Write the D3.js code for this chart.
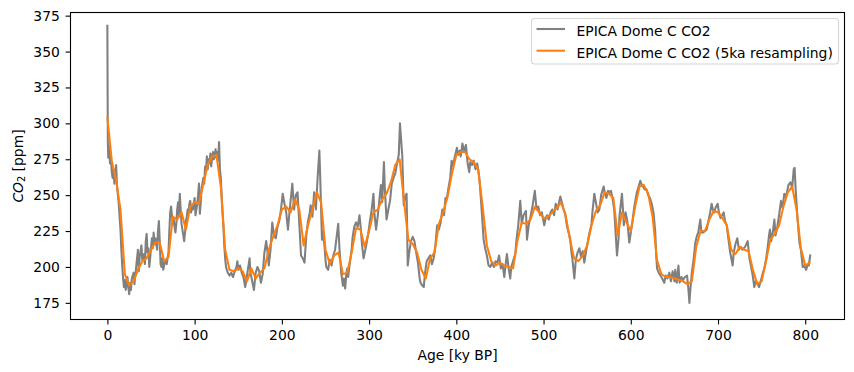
<!DOCTYPE html>
<html>
<head>
<meta charset="utf-8">
<script src="https://cdn.jsdelivr.net/npm/d3@7"></script>
<style>
    body { margin: 0; background: #ffffff; }
    svg { display: block; }
</style>
</head>
<body>
<svg id="drawing_region"></svg>
<script>
// EPICA Dome C CO2, [age ky BP, ppm]
const epica_raw = [
    [-0.05,368],[0.2,330],[0.5,287],[1,276],[2,284],[3,272],[4,277],[5,266],[6,262],[7,268],
    [8,258],[9,264],[10,271],[11,257],[12,250],[13,244],[14,235],[15,226],[16,212],[17,201],
    [18,192],[19,186],[20,191],[21,184],[22,188],[23,193],[24,186],[25,181],[26,189],[27,184],
    [28,192],[30,196],[31,188],[33,200],[35,212],[36,197],[37,207],[39,215],[40,205],[42,209],
    [43,202],[44,218],[45,223],[46,210],[47,213],[48,200],[49,206],[50,213],[51,220],[52,213],
    [53,224],[54,216],[55,220],[57,212],[58,225],[59,232],[60,218],[61,202],[62,200],[63,206],
    [64,198],[66,204],[68,202],[70,210],[71,225],[72,238],[73,242],[74,236],[75,230],[76,233],
    [77,228],[78,224],[79,230],[80,240],[81,245],[82,236],[83,251],[84,240],[85,230],[86,226],
    [87,222],[88,218],[89,224],[90,232],[91,235],[92,240],[93,238],[94,244],[95,246],[96,238],
    [97,242],[98,240],[100,248],[101,236],[103,244],[104,250],[105,258],[106,237],[107,245],[108,255],
    [110,262],[111,258],[112,270],[113,266],[114,277],[115,268],[116,275],[117,272],[118,279],[119,270],
    [120,276],[121,280],[122,275],[123,278],[124,282],[125,276],[126,280],[127,274],[128,287],[129,268],
    [130,262],[131,250],[132,238],[133,228],[134,215],[135,206],[136,200],[138,196],[140,194],[142,196],
    [144,193],[146,197],[148,200],[149,204],[150,198],[152,201],[154,196],[156,193],[158,186],[159,190],
    [161,198],[163,206],[164,196],[166,190],[168,184],[170,196],[172,200],[174,197],[176,189],[178,195],
    [180,210],[182,218],[184,208],[185,201],[187,212],[189,231],[191,222],[193,220],[195,228],[197,232],
    [199,240],[201,251],[203,244],[205,238],[207,226],[209,240],[211,252],[212,258],[214,240],[216,250],
    [218,252],[220,230],[222,208],[224,206],[226,203],[228,222],[230,232],[232,238],[233,243],[235,235],
    [237,252],[239,240],[241,262],[243,281],[244,262],[245,240],[246,219],[247,225],[249,214],[250,205],
    [251,200],[253,198],[255,205],[257,201],[259,208],[261,212],[263,222],[264.6,230],[266,213],[267,205],
    [268,196],[270,187],[271,192],[272.6,185],[274,196],[275,199],[276,193],[278,203],[280,212],[281,220],
    [283,228],[285,231],[287,228],[289,236],[290,230],[292,215],[293.7,206],[295,210],[297,216],[299,223],
    [301,232],[303,240],[305,251],[306,238],[308,226],[310,236],[312,248],[313.5,257],[315,245],[317,273],
    [318,255],[320,233],[322,240],[324,246],[326,258],[328,262],[330,265],[332,272],[334,278],[335.4,300],
    [337,286],[338,278],[339.7,243],[341,248],[343,251],[344.3,201],[346,210],[348,218],[350,221],[352,218],
    [354,210],[356,203],[358,192],[359,189],[361,187],[362.7,186],[364,195],[366,204],[368,206],[370,208],
    [372,202],[374,206],[376,215],[378,229],[380,226],[382,231],[384,240],[386,236],[387.5,248],[389,247],
    [391,255],[393,262],[394.6,274],[396,270],[398,276],[400.7,283],[402,278],[404,281],[405,277],[407,286],
    [409,280],[411,285],[413,272],[414.8,266],[416,273],[418,271],[420,274],[422,268],[424,272],[426,264],
    [427.4,254],[429,240],[431.3,219],[433,213],[435,208],[437,201],[439,200],[441,203],[443,200],[445,204],
    [447,203],[449,208],[451,199],[453,202],[455,193],[457,204],[458,209],[460,199],[461.8,192],[463,200],
    [465,204],[467.6,209],[469,219],[471,229],[473.3,246],[475,230],[477,236],[479.8,239],[481,219],[483,229],
    [485,235],[487.5,243],[490,253],[492,240],[494,242],[496,236],[498,238],[500.8,229],[502,233],[504,236],
    [506,233],[508,238],[510,240],[512,236],[514,244],[516,240],[519.2,249],[521,245],[523,240],[525,236],
    [527,228],[530.5,220],[532,210],[533,206],[535.3,192],[537,205],[539,210],[541,213],[543,207],[545,211],
    [546.7,203],[548,208],[550,215],[552,222],[553.6,226],[555,230],[556,238],[558.2,251],[560,245],[562,238],
    [564,240],[566,250],[568.9,256],[570,252],[572,248],[574,253],[576,252],[577.3,253],[579,248],[581,240],
    [582,230],[584.2,208],[586,220],[587,235],[589.9,251],[591,240],[592,229],[594,238],[596,232],[598.3,217],
    [600,224],[602,232],[604,242],[605.5,247],[607,252],[609,256],[610.9,260],[612,258],[614,256],[616,254],
    [618,254],[620,250],[622,248],[624,244],[626,238],[628,225],[629,210],[630.1,199],[632,196],[634,194],
    [636,192],[638.4,189],[640,194],[642,192],[644.2,196],[646,190],[648,197],[650,190],[651,198],[652.7,189],
    [654.6,201],[656,189],[658,193],[660,191],[662,193],[664.5,194],[666,185],[667.2,175],[668,182],[670,196],
    [672,205],[674,217],[676,222],[677.4,224],[679.7,233],[681,224],[683,224],[685,225],[687,226],[689,232],
    [691,238],[692.7,244],[694,240],[696,238],[697,241],[699.6,244],[701,238],[703,234],[706.5,238],[708,232],
    [710,229],[712,219],[714,210],[716.8,201],[718,210],[720,216],[722.1,220],[724,212],[726,214],[728,212],
    [731,214],[734,218],[736,206],[738,200],[739.8,194],[741.6,186],[743,190],[745,189],[747,186],[749,190],
    [751,195],[753.1,199],[755,205],[757,214],[758.5,222],[759.5,226],[761,218],[763,225],[764.6,233],[766,222],
    [768,228],[770,236],[772.2,246],[774,241],[776,251],[778,249],[780.7,257],[783,259],[785,255],[786.8,268],
    [787.8,269],[789,254],[791,235],[793.3,217],[795,212],[797.1,200],[799,201],[801,198],[803,202],[804,201],
    [805.7,208]
];

// 5ka resampling, [age ky BP, ppm]
const epica_5ka = [
    [0,304],[5,274],[10,260],[15,240],[20,195],[25,187],[30,190],[35,198],[40,204],[45,206],
    [50,212],[55,217],[60,217],[65,204],[70,207],[75,235],[80,233],[85,238],[90,226],[95,242],
    [100,245],[105,244],[110,258],[115,271],[120,277],[125,278],[130,256],[135,212],[140,198],[145,197],
    [150,199],[155,197],[160,190],[165,199],[170,192],[175,196],[180,199],[185,212],[190,221],[195,229],
    [200,240],[205,242],[210,238],[215,247],[220,240],[225,215],[230,229],[235,240],[240,252],[245,245],
    [250,212],[255,202],[260,208],[265,210],[270,195],[275,196],[280,210],[285,227],[290,226],[295,214],
    [300,225],[305,238],[310,240],[315,247],[320,251],[325,259],[330,271],[335,275],[340,246],[345,219],
    [350,216],[355,210],[360,198],[365,192],[370,206],[375,210],[380,230],[385,238],[390,249],[395,265],
    [400,278],[405,280],[410,280],[415,275],[420,273],[425,268],[430,243],[435,215],[440,204],[445,201],
    [450,203],[455,201],[460,200],[465,199],[470,218],[475,231],[480,230],[485,233],[490,242],[495,238],
    [500,234],[505,235],[510,238],[515,241],[520,245],[525,237],[530,220],[535,206],[540,204],[545,208],
    [550,215],[555,229],[560,239],[565,243],[570,252],[575,251],[580,248],[585,222],[590,238],[595,231],
    [600,225],[605,242],[610,256],[615,257],[620,251],[625,235],[630,205],[635,195],[640,193],[645,193],
    [650,192],[655,191],[660,190],[665,188],[670,190],[675,214],[680,225],[685,225],[690,233],[695,239],
    [700,238],[705,234],[710,229],[715,212],[720,209],[725,214],[730,212],[735,211],[740,198],[745,188],
    [750,190],[755,204],[760,219],[765,223],[770,229],[775,242],[780,252],[785,256],[790,240],[795,213],
    [800,201],[805,203]
];

const series_names = ['EPICA Dome C CO2', 'EPICA Dome C CO2 (5ka resampling)'];
const series_colors = ['#808080', '#ff7f0e'];
const x_ticks = [0, 100, 200, 300, 400, 500, 600, 700, 800];
const y_ticks = [175, 200, 225, 250, 275, 300, 325, 350, 375];

class LineChart {

    constructor( config, series ) {
        this.config = {
            parent: config.parent,
            width: config.width || 854,
            height: config.height || 372,
            margin: config.margin || {top:12.5, right:9.5, bottom:52.5, left:70.5},
            xlabel: config.xlabel || '',
            xdomain: config.xdomain,
            ydomain: config.ydomain,
            font: config.font || '13.9px'
        }
        this.series = series;
        this.init();
    }

    init() {
        let self = this;

        self.svg = d3.select( self.config.parent )
            .attr('width', self.config.width)
            .attr('height', self.config.height)
            .style('font-family', '"DejaVu Sans", sans-serif');

        self.chart = self.svg.append('g')
            .attr('transform', `translate(${self.config.margin.left}, ${self.config.margin.top})`);

        self.inner_width = self.config.width - self.config.margin.left - self.config.margin.right;
        self.inner_height = self.config.height - self.config.margin.top - self.config.margin.bottom;

        self.xscale = d3.scaleLinear()
            .domain( self.config.xdomain )
            .range( [0, self.inner_width] );

        self.yscale = d3.scaleLinear()
            .domain( self.config.ydomain )
            .range( [self.inner_height, 0] );

        self.xaxis = d3.axisBottom( self.xscale )
            .tickValues( x_ticks )
            .tickSize( 4.9 )
            .tickSizeOuter( 0 )
            .tickPadding( 5.7 );

        self.yaxis = d3.axisLeft( self.yscale )
            .tickValues( y_ticks )
            .tickSize( 4.9 )
            .tickSizeOuter( 0 )
            .tickPadding( 5.8 );

        self.chart.append('clipPath')
            .attr('id', 'plot_clip')
            .append('rect')
            .attr('width', self.inner_width)
            .attr('height', self.inner_height);

        self.lines_group = self.chart.append('g')
            .attr('clip-path', 'url(#plot_clip)');

        self.xaxis_group = self.chart.append('g')
            .attr('transform', `translate(0, ${self.inner_height})`);

        self.yaxis_group = self.chart.append('g');

        self.xlabel = self.svg.append('text')
            .attr('x', self.config.margin.left + self.inner_width/2)
            .attr('y', 360.3)
            .attr('text-anchor', 'middle')
            .attr('font-size', self.config.font)
            .text( self.config.xlabel );

        // CO_2 [ppm], mathtext style
        self.ylabel = self.svg.append('text')
            .attr('transform', `translate(23, ${self.config.margin.top + self.inner_height/2}) rotate(-90)`)
            .attr('text-anchor', 'middle')
            .attr('font-size', self.config.font);
        self.ylabel.append('tspan').attr('font-style', 'italic').text('CO');
        self.ylabel.append('tspan').attr('font-size', '9.7px').attr('dy', 2.4).text('2');
        self.ylabel.append('tspan').attr('dy', -2.4).text('\u00a0[ppm]');
    }

    render() {
        let self = this;

        const line = d3.line()
            .x( d => self.xscale( d[0] ) )
            .y( d => self.yscale( d[1] ) );

        self.lines_group.selectAll('path')
            .data( self.series )
            .join('path')
            .attr('d', d => line( d.values ))
            .attr('fill', 'none')
            .attr('stroke', d => d.color)
            .attr('stroke-width', 2.08)
            .attr('stroke-linejoin', 'round')
            .attr('stroke-linecap', 'square');

        self.xaxis_group.call( self.xaxis );
        self.yaxis_group.call( self.yaxis );

        self.chart.selectAll('.domain').remove();
        self.chart.selectAll('.tick line').attr('stroke', '#000').attr('stroke-width', 1.1);
        self.chart.selectAll('.tick text')
            .attr('font-family', '"DejaVu Sans", sans-serif')
            .attr('font-size', self.config.font)
            .attr('fill', '#000');

        // frame
        self.chart.append('rect')
            .attr('width', self.inner_width)
            .attr('height', self.inner_height)
            .attr('fill', 'none')
            .attr('stroke', '#000')
            .attr('stroke-width', 1.1);

        // legend
        const legend = self.svg.append('g')
            .attr('transform', 'translate(531.5, 18.5)');
        legend.append('rect')
            .attr('width', 307)
            .attr('height', 45.5)
            .attr('rx', 3)
            .attr('fill', '#fff')
            .attr('fill-opacity', 0.8)
            .attr('stroke', '#d6d6d6')
            .attr('stroke-width', 1.1);
        const item = legend.selectAll('.item')
            .data( self.series )
            .join('g')
            .attr('transform', (d,i) => `translate(0, ${10.5 + i*21.7})`);
        item.append('line')
            .attr('x1', 5).attr('x2', 33.5)
            .attr('stroke', d => d.color)
            .attr('stroke-width', 2.08);
        item.append('text')
            .attr('x', 45)
            .attr('y', 7)
            .attr('font-size', self.config.font)
            .text( d => d.name );
    }
}

const series = [
    { name: series_names[0], color: series_colors[0], values: epica_raw },
    { name: series_names[1], color: series_colors[1], values: epica_5ka }
];

const line_chart = new LineChart( {
    parent: '#drawing_region',
    width: 854,
    height: 372,
    margin: {top:12.5, right:9.5, bottom:52.5, left:70.5},
    xlabel: 'Age [ky BP]',
    xdomain: [-42.3, 845],
    ydomain: [163.4, 377.2]
}, series );
line_chart.render();
</script>
</body>
</html>
